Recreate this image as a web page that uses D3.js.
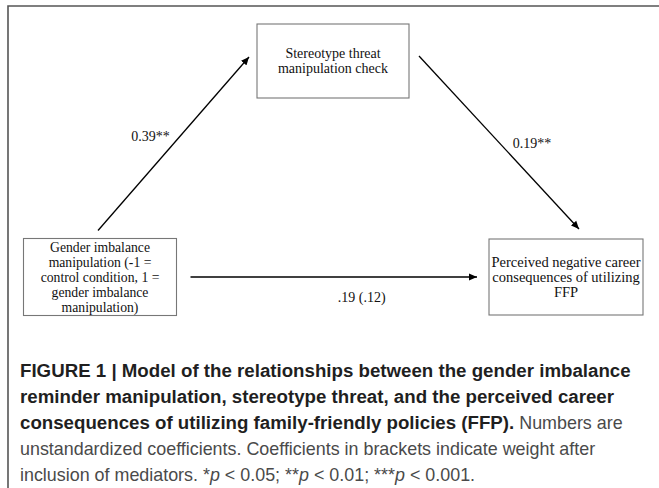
<!DOCTYPE html>
<html>
<head>
<meta charset="utf-8">
<script src="https://cdn.jsdelivr.net/npm/d3@7"></script>
<style>
  html, body { margin: 0; padding: 0; background: #fff; }
  svg { display: block; }
  .node-text { font-family: "Liberation Serif", "Times New Roman", serif; font-size: 14px; fill: #111; }
  .path-label { font-family: "Liberation Serif", "Times New Roman", serif; font-size: 14px; fill: #111; }
  .caption { font-family: "Liberation Sans", Arial, sans-serif; font-size: 17.9px; fill: #4a4a4a; }
  .caption .b { font-weight: bold; fill: #1f1f1f; font-size: 18.7px; }
</style>
</head>
<body>
<div id="chart"></div>
<script>
// nodes of the mediation model
const nodeIds = ["x", "m", "y"];
const nodeLabels = [
  ["Gender imbalance", "manipulation (-1 =", "control condition, 1 =", "gender imbalance", "manipulation)"],
  ["Stereotype threat", "manipulation check"],
  ["Perceived negative career", "consequences of utilizing", "FFP"],
];
// paths between nodes and their coefficients
const pathFrom = ["x", "m", "x"];
const pathTo = ["m", "y", "y"];
const pathLabels = ["0.39**", "0.19**", ".19 (.12)"];

const captionLines = [
  [["b", "FIGURE 1 | Model of the relationships between the gender imbalance"]],
  [["b", "reminder manipulation, stereotype threat, and the perceived career"]],
  [["b", "consequences of utilizing family-friendly policies (FFP)."], ["r", " Numbers are"]],
  [["r", "unstandardized coefficients. Coefficients in brackets indicate weight after"]],
  [["r", "inclusion of mediators. *"], ["i", "p"], ["r", " < 0.05; **"], ["i", "p"], ["r", " < 0.01; ***"], ["i", "p"], ["r", " < 0.001."]],
];

const width = 659, height = 488;

// layout: column / row slots for each node
const col = d3.scalePoint().domain(["x", "m", "y"]).range([100, 566]);
const row = d3.scalePoint().domain(["m", "x"]).range([61, 277]);
const boxW = { x: 153, m: 152, y: 154 };
const boxH = { x: 77, m: 74, y: 76 };
const fontSize = { x: 13.7, m: 14, y: 14.5 };
const rowOf = { x: "x", m: "m", y: "x" };

const nodes = nodeIds.map((id, i) => ({
  id,
  lines: nodeLabels[i],
  cx: col(id),
  cy: row(rowOf[id]),
  w: boxW[id],
  h: boxH[id],
  fs: fontSize[id],
}));
const byId = new Map(nodes.map((d) => [d.id, d]));

const svg = d3.select("#chart").append("svg")
  .attr("width", width)
  .attr("height", height);

svg.append("defs").append("marker")
  .attr("id", "arrow")
  .attr("viewBox", "0 0 10 10")
  .attr("refX", 10)
  .attr("refY", 5)
  .attr("markerWidth", 8)
  .attr("markerHeight", 8)
  .attr("markerUnits", "userSpaceOnUse")
  .attr("orient", "auto")
  .append("path")
  .attr("d", "M0,0.5 L10,5 L0,9.5 Z")
  .attr("fill", "#000");

// outer frame (cropped on the right and bottom)
svg.append("path")
  .attr("d", `M8,${height + 2} V6 H${width + 2}`)
  .attr("fill", "none")
  .attr("stroke", "#555")
  .attr("stroke-width", 1.6);

// paths: endpoints pulled from the box edges
const gap = 8;
function endpoints(a, b) {
  if (a.cy === b.cy) {
    return [a.cx + a.w / 2 + 14, a.cy, b.cx - b.w / 2 - 12, b.cy];
  }
  if (b.cy < a.cy) {
    // up to the mediator
    return [a.cx - 2, a.cy - a.h / 2 - gap, b.cx - b.w / 2 - gap, b.cy - 4];
  }
  return [a.cx + a.w / 2 + gap + 2, a.cy - 5, b.cx + 13, b.cy - b.h / 2 - gap - 2];
}

const paths = pathFrom.map((f, i) => {
  const [x1, y1, x2, y2] = endpoints(byId.get(f), byId.get(pathTo[i]));
  return { x1, y1, x2, y2, label: pathLabels[i], horiz: y1 === y2 };
});

svg.append("g")
  .selectAll("line")
  .data(paths)
  .join("line")
  .attr("x1", (d) => d.x1)
  .attr("y1", (d) => d.y1)
  .attr("x2", (d) => d.x2)
  .attr("y2", (d) => d.y2)
  .attr("stroke", "#000")
  .attr("stroke-width", 1.3)
  .attr("marker-end", "url(#arrow)");

// labels sit beside each path (left of the rising one, right of the falling one)
svg.append("g")
  .selectAll("text")
  .data(paths)
  .join("text")
  .attr("class", "path-label")
  .attr("text-anchor", "middle")
  .attr("x", (d) => (d.horiz ? (d.x1 + d.x2) / 2 + 28 : d.y2 < d.y1 ? (d.x1 + d.x2) / 2 - 23 : (d.x1 + d.x2) / 2 + 33))
  .attr("y", (d) => (d.horiz ? d.y1 + 25 : d.y2 < d.y1 ? (d.y1 + d.y2) / 2 - 3 : (d.y1 + d.y2) / 2 + 5))
  .text((d) => d.label);

// boxes
const gNode = svg.append("g")
  .selectAll("g")
  .data(nodes)
  .join("g")
  .attr("transform", (d) => `translate(${d.cx},${d.cy})`);

gNode.append("rect")
  .attr("x", (d) => -d.w / 2)
  .attr("y", (d) => -d.h / 2)
  .attr("width", (d) => d.w)
  .attr("height", (d) => d.h)
  .attr("fill", "#fff")
  .attr("stroke", "#777")
  .attr("stroke-width", 1.1);

const lineH = 15;
gNode.append("text")
  .attr("class", "node-text")
  .attr("text-anchor", "middle")
  .style("font-size", (d) => d.fs + "px")
  .selectAll("tspan")
  .data((d) => d.lines.map((t, i) => ({ t, i, n: d.lines.length })))
  .join("tspan")
  .attr("x", 0)
  .attr("y", (d) => (d.i - (d.n - 1) / 2) * lineH + 4.5)
  .text((d) => d.t);

// caption
const caption = svg.append("g").attr("transform", "translate(20,0)");
caption.selectAll("text")
  .data(captionLines)
  .join("text")
  .attr("class", "caption")
  .attr("x", 0)
  .attr("y", (d, i) => 377 + i * 26)
  .selectAll("tspan")
  .data((d) => d)
  .join("tspan")
  .attr("class", (d) => d[0])
  .attr("font-style", (d) => (d[0] === "i" ? "italic" : null))
  .text((d) => d[1]);
</script>
</body>
</html>
